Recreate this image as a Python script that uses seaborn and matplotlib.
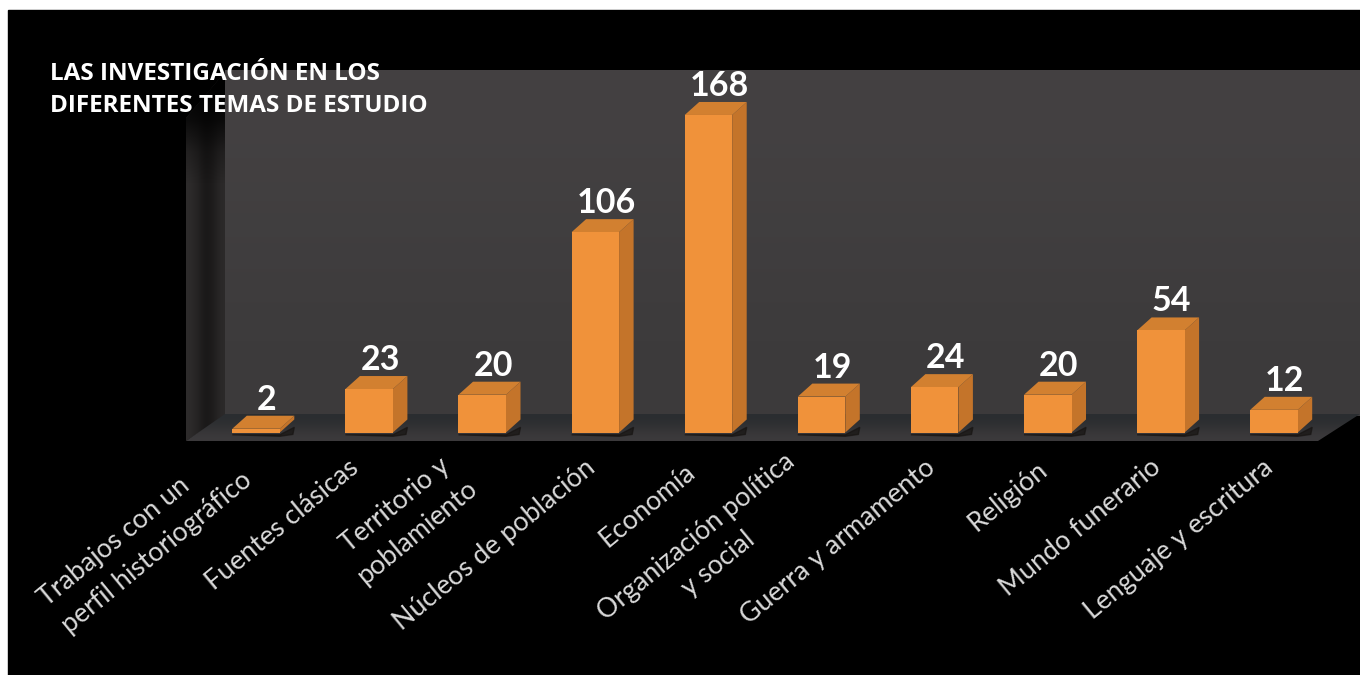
#%%
import numpy as np
import pandas as pd
import matplotlib.pyplot as plt
from matplotlib.patches import Polygon, Rectangle
from matplotlib.transforms import ScaledTranslation
import seaborn as sns

#%%
temas = ["Trabajos con un\nperfil historiográfico", "Fuentes clásicas", "Territorio y\npoblamiento",
         "Núcleos de población", "Economía", "Organización política\ny social", "Guerra y armamento",
         "Religión", "Mundo funerario", "Lenguaje y escritura"]
trabajos = [2, 23, 20, 106, 168, 19, 24, 20, 54, 12]
titulo = "LAS INVESTIGACIÓN EN LOS\nDIFERENTES TEMAS DE ESTUDIO"

data = pd.DataFrame({"tema": temas, "trabajos": trabajos})

W, H = 1360, 675
FRONT, SIDE, TOP = "#f0923a", "#c4742a", "#d28030"

sns.set_theme(style="white")
plt.rcParams["font.family"] = ["Lato", "DejaVu Sans"]

fig = plt.figure(figsize=(W / 100, H / 100), dpi=100, facecolor="white")

#%%
# fondo: pared, lateral y suelo en pixeles
bg = fig.add_axes([0, 0, 1, 1], zorder=0)
bg.set_xlim(0, W)
bg.set_ylim(H, 0)
bg.axis("off")
bg.add_patch(Rectangle((8, 10), W - 8, H - 10, color="black", zorder=0))


def degradado(verts, colores, vertical=False):
    poly = Polygon(verts, closed=True, facecolor="none", edgecolor="none", zorder=1)
    bg.add_patch(poly)
    xs, ys = zip(*verts)
    grad = np.array(colores)[None, :] if not vertical else np.array(colores)[:, None]
    im = bg.imshow(grad / 255, extent=[min(xs), max(xs), max(ys), min(ys)], aspect="auto",
                   interpolation="bicubic", zorder=1)
    im.set_clip_path(poly)


degradado([(225, 70), (W, 70), (W, 416), (225, 416)],
          [[68, 65, 66], [64, 62, 63], [60, 58, 59]], vertical=True)
lateral = [(186, 118), (225, 72), (225, 416), (186, 441)]
degradado(lateral, [[46, 44, 44], [38, 36, 36], [24, 23, 23], [30, 28, 28], [44, 42, 42]])
# el lateral se pierde en negro por arriba
fade = np.zeros((4, 1, 4))
fade[:, 0, 3] = [1.0, 0.75, 0.25, 0.0]
sombra = Polygon(lateral, closed=True, facecolor="none", edgecolor="none", zorder=2)
bg.add_patch(sombra)
im = bg.imshow(fade, extent=[186, 225, 200, 72], aspect="auto", interpolation="bilinear", zorder=2)
im.set_clip_path(sombra)
degradado([(186, 441), (225, 414), (W, 414), (1318, 441)],
          [[42, 45, 48], [50, 50, 52], [60, 58, 60]], vertical=True)
bg.set_xlim(0, W)
bg.set_ylim(H, 0)

#%%
# ejes alineados con la base de las barras
left, right, base, top = 199.5, 1330.5, 432.5, 70
ax = fig.add_axes([left / W, 1 - base / H, (right - left) / W, (base - top) / H], zorder=1)
ax.patch.set_alpha(0)
sns.barplot(data=data, x="tema", y="trabajos", color=FRONT, saturation=1, width=0.42, linewidth=0, ax=ax)
ax.set_xlim(-0.5, 9.5)
ax.set_ylim(0, (base - top) / 1.89)
ax.set_xlabel("")
ax.set_ylabel("")
ax.set_yticks([])
sns.despine(ax=ax, left=True, bottom=True)

# caras laterales y superiores a partir de las barras
dx, dy = 14.5 / 113.1, 13 / 1.89
for bar, val in zip(ax.patches, trabajos):
    x0, x1 = bar.get_x(), bar.get_x() + bar.get_width()
    h = bar.get_height()
    bar.set_zorder(3)
    ax.add_patch(Polygon([(x0, -1.2), (x1, -1.2), (x1 + dx, dy * 0.4), (x1 + dx * 0.9, -1), (x1, -2)],
                         color="#171412", alpha=0.7, zorder=1, clip_on=False))
    ax.add_patch(Polygon([(x1, 0), (x1 + dx, dy), (x1 + dx, h + dy), (x1, h)],
                         facecolor=SIDE, edgecolor="none", zorder=2))
    ax.add_patch(Polygon([(x0, h), (x1, h), (x1 + dx, h + dy), (x0 + dx, h + dy)],
                         facecolor=TOP, edgecolor="none", zorder=2))
    ax.annotate(str(val), (x0 + bar.get_width() / 2 + dx * 0.75, h + dy), xytext=(0, 0),
                textcoords="offset points", ha="center", va="bottom", color="white",
                fontsize=24.5, fontweight="bold", zorder=4)

ax.set_xticks(range(len(temas)))
ax.set_xticklabels(temas, rotation=39.5, ha="right", rotation_mode="anchor", multialignment="center",
                   color="#d9d9d9", fontsize=19.3, linespacing=1.5)
ax.tick_params(axis="x", length=0, pad=16)

# ajuste a mano de cada etiqueta, en pixeles
ajuste_x = [-38, -22, -38, -11, -24, -38, -11, -11, -11, -12]
ajuste_y = [14, 0, 6, 0, -4, 6, 0, -2, 0, 0]
for lab, ax_px, ay_px in zip(ax.get_xticklabels(), ajuste_x, ajuste_y):
    lab.set_transform(lab.get_transform() + ScaledTranslation(ax_px / 100, ay_px / 100, fig.dpi_scale_trans))
ax.get_xticklabels()[0].set_multialignment("left")

fig.text(50 / W, 1 - 62 / H, titulo, color="white", fontsize=17.5, fontweight="bold",
         family="Open Sans", va="top", ha="left", linespacing=1.46, zorder=5)

fig.savefig("out.png", dpi=100, facecolor="white")
